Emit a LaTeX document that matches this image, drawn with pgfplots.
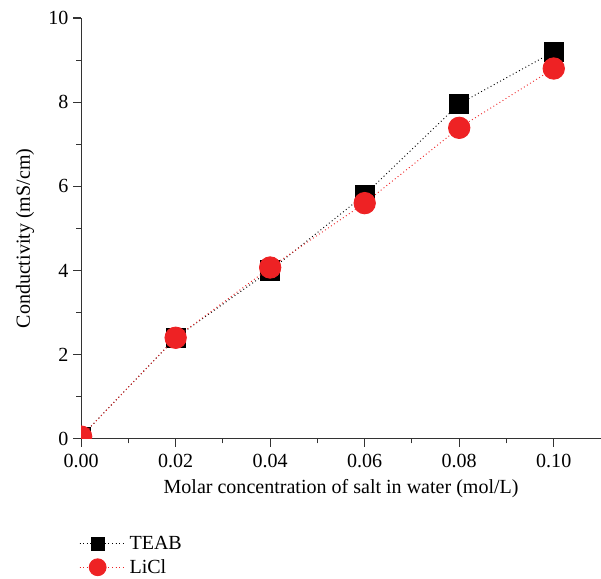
\documentclass[border=0pt]{standalone}
\usepackage{pgfplots}
\pgfplotsset{compat=1.18}
\usepackage{fontspec}
\setmainfont{Liberation Serif}
\definecolor{myred}{HTML}{EE2224}
\begin{document}
\begin{tikzpicture}
\begin{axis}[
  at={(0,0)}, anchor=south west,
  scale only axis,
  width=389.25pt, height=315pt,
  xmin=0, xmax=0.11, ymin=0, ymax=10,
  axis lines=left,
  axis line style={-, line width=0.8pt, black!80},
  xtick={0,0.02,0.04,0.06,0.08,0.1},
  xticklabels={0.00,0.02,0.04,0.06,0.08,0.10},
  ytick={0,2,4,6,8,10},
  minor x tick num=1, minor y tick num=1,
  tick align=outside,
  major tick length=6pt, minor tick length=3.5pt,
  tick style={line width=0.8pt, black!80},
  /pgf/number format/assume math mode=true,
  ticklabel style={font=\fontsize{15}{17}\selectfont},
  xticklabel style={yshift=-2pt},
  label style={font=\fontsize{15}{17}\selectfont},
  xlabel={Molar concentration of salt in water (mol/L)},
  ylabel={Conductivity (mS/cm)},
  xlabel style={at={(axis description cs:0.5,-0.118)}, anchor=center},
  ylabel style={at={(axis description cs:-0.108,0.476)}, anchor=center},
  clip=true, clip marker paths=true,
  legend style={at={(axis description cs:-0.012,-0.218)}, anchor=north west, draw=none, fill=none,
    font=\fontsize{15}{17}\selectfont, row sep=2pt},
  legend cell align=left,
]
\addplot[black, dotted, line width=0.7pt, mark=square*, mark size=7.2pt, mark options={solid, fill=black},
  legend image code/.code={\draw[black, dotted, line width=0.7pt, mark=square*, mark options={solid, fill=black}, mark repeat=2, mark phase=2, mark size=4.9pt] plot coordinates {(0pt,0pt) (13.5pt,0pt) (27pt,0pt)}; \path (0pt,0pt) -- (35pt,0pt);}]
  coordinates {(0,0.05) (0.02,2.4) (0.04,4.0) (0.06,5.8) (0.08,7.96) (0.1,9.2)};
\addlegendentry{TEAB}
\addplot[myred, dotted, line width=0.7pt, mark=*, mark size=8pt, mark options={solid, fill=myred, draw=myred},
  legend image code/.code={\draw[myred, dotted, line width=0.7pt, mark=*, mark options={solid, fill=myred, draw=myred}, mark repeat=2, mark phase=2, mark size=6.3pt] plot coordinates {(0pt,0pt) (13.5pt,0pt) (27pt,0pt)}; \path (0pt,0pt) -- (35pt,0pt);}]
  coordinates {(0,0.05) (0.02,2.4) (0.04,4.07) (0.06,5.6) (0.08,7.39) (0.1,8.8)};
\addlegendentry{LiCl}
\end{axis}
\pgfresetboundingbox
\path[use as bounding box] (-60.75pt,-105pt) rectangle (389.25pt,328.5pt);
\end{tikzpicture}
\end{document}
